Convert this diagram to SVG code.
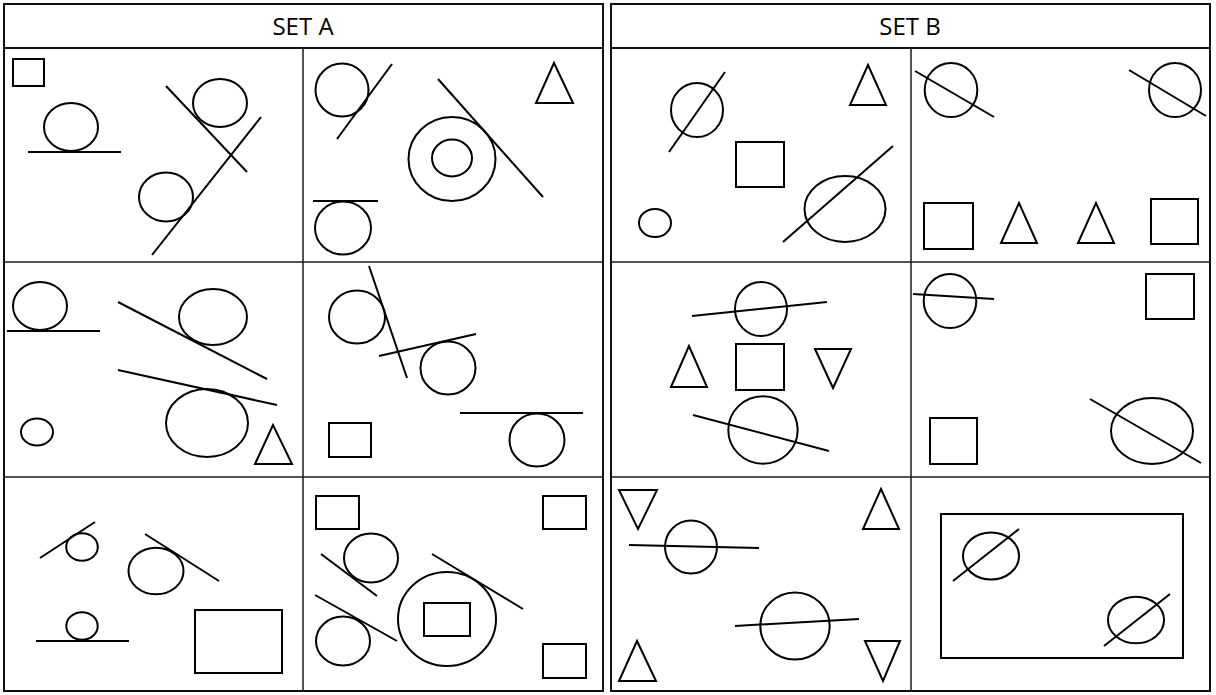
<svg xmlns="http://www.w3.org/2000/svg" width="1216" height="695" viewBox="0 0 1216 695">
<style>
.s{fill:none;stroke:#000;stroke-width:2}
.g{fill:none;stroke:#1a1a1a;stroke-width:1.5}
.o{fill:none;stroke:#111;stroke-width:2}
.t{font-family:"Open Sans","Liberation Sans",sans-serif;font-size:24px;text-anchor:middle;fill:#000}
</style>
<rect width="1216" height="695" fill="#fff"/>
<g id="frame">
<rect class="o" x="4" y="4" width="599" height="687"/>
<rect class="o" x="611" y="4" width="599" height="687"/>
<line class="o" x1="4" y1="48" x2="603" y2="48"/>
<line class="o" x1="611" y1="48" x2="1210" y2="48"/>
<line class="g" x1="303" y1="48" x2="303" y2="691"/>
<line class="g" x1="911" y1="48" x2="911" y2="691"/>
<line class="g" x1="4" y1="262" x2="603" y2="262"/>
<line class="g" x1="4" y1="477" x2="603" y2="477"/>
<line class="g" x1="611" y1="262" x2="1210" y2="262"/>
<line class="g" x1="611" y1="477" x2="1210" y2="477"/>
<text class="t" x="303" y="35">SET A</text>
<text class="t" x="910" y="35">SET B</text>
</g>
<g id="a1" class="s">
<rect x="13" y="59" width="31" height="27"/>
<ellipse cx="71" cy="127" rx="27" ry="24"/>
<line x1="28" y1="152" x2="121" y2="152"/>
<ellipse cx="220" cy="103" rx="27" ry="24"/>
<line x1="166" y1="86" x2="247" y2="172"/>
<ellipse cx="166" cy="197" rx="27" ry="24.5"/>
<line x1="152" y1="255" x2="261" y2="117"/>
</g>
<g id="a2" class="s">
<circle cx="342" cy="90" r="26.5"/>
<line x1="337" y1="139" x2="392" y2="64"/>
<polygon points="554,63 536,103 573,103"/>
<ellipse cx="452" cy="159" rx="43.5" ry="42"/>
<ellipse cx="452" cy="158" rx="20" ry="18.5"/>
<line x1="438" y1="79" x2="543" y2="197"/>
<line x1="313" y1="201" x2="378" y2="201"/>
<ellipse cx="343" cy="228" rx="28" ry="26.5"/>
</g>
<g id="a3" class="s">
<ellipse cx="40" cy="306" rx="27" ry="24"/>
<line x1="7" y1="331" x2="100" y2="331"/>
<ellipse cx="213" cy="317" rx="34" ry="28"/>
<line x1="118" y1="302" x2="267" y2="379"/>
<line x1="118" y1="370" x2="277" y2="405"/>
<ellipse cx="207" cy="423" rx="41" ry="34"/>
<ellipse cx="37" cy="432" rx="16" ry="13.5"/>
<polygon points="273,425 255,464 292,464"/>
</g>
<g id="a4" class="s">
<ellipse cx="357" cy="317" rx="28" ry="26.5"/>
<line x1="369" y1="266" x2="407" y2="378"/>
<line x1="379" y1="356" x2="476" y2="334"/>
<ellipse cx="448" cy="368" rx="27.5" ry="26.5"/>
<rect x="329" y="423" width="42" height="34"/>
<line x1="460" y1="413" x2="583" y2="413"/>
<ellipse cx="537" cy="440" rx="27.5" ry="26.5"/>
</g>
<g id="a5" class="s">
<ellipse cx="82" cy="547" rx="15.8" ry="13.7"/>
<line x1="40" y1="558" x2="95" y2="522"/>
<ellipse cx="156" cy="571" rx="27.5" ry="23.3"/>
<line x1="145" y1="534" x2="219" y2="581"/>
<ellipse cx="82" cy="626" rx="15.7" ry="13.8"/>
<line x1="36" y1="641" x2="129" y2="641"/>
<rect x="195" y="610" width="87" height="63"/>
</g>
<g id="a6" class="s">
<rect x="316" y="496" width="43" height="33"/>
<rect x="543" y="496" width="43" height="33"/>
<ellipse cx="371" cy="558" rx="27" ry="24.5"/>
<line x1="321" y1="554" x2="377" y2="596"/>
<line x1="315" y1="595" x2="397" y2="641"/>
<ellipse cx="343" cy="641" rx="27" ry="24.5"/>
<ellipse cx="447" cy="619" rx="49" ry="47"/>
<rect x="424" y="603" width="46" height="33"/>
<line x1="432" y1="554" x2="523" y2="609"/>
<rect x="543" y="644" width="43" height="34"/>
</g>
<g id="b1" class="s">
<ellipse cx="697" cy="110" rx="26" ry="27"/>
<line x1="669" y1="152" x2="725" y2="72"/>
<polygon points="868,65 850,105 886,105"/>
<rect x="736" y="142" width="48" height="45"/>
<ellipse cx="655" cy="223" rx="16" ry="14"/>
<ellipse cx="845" cy="209" rx="40.5" ry="33"/>
<line x1="783" y1="242" x2="893" y2="146"/>
</g>
<g id="b2" class="s">
<ellipse cx="951" cy="90" rx="26.3" ry="27"/>
<line x1="915" y1="71" x2="994" y2="117"/>
<ellipse cx="1175" cy="90" rx="26" ry="27"/>
<line x1="1129" y1="70" x2="1206" y2="116"/>
<rect x="924" y="203" width="49" height="46"/>
<polygon points="1019,203 1001,243 1037,243"/>
<polygon points="1096,203 1078,243 1114,243"/>
<rect x="1151" y="199" width="47" height="45"/>
</g>
<g id="b3" class="s">
<ellipse cx="761" cy="309" rx="26" ry="27"/>
<line x1="692" y1="316" x2="827" y2="302"/>
<polygon points="689,346 671,387 707,387"/>
<rect x="736" y="344" width="48" height="46"/>
<polygon points="815,349 851,349 833,388"/>
<ellipse cx="763" cy="430" rx="34.7" ry="33.8"/>
<line x1="693" y1="415" x2="829" y2="451"/>
</g>
<g id="b4" class="s">
<ellipse cx="950" cy="301" rx="26.3" ry="27"/>
<line x1="913" y1="294" x2="994" y2="299"/>
<rect x="1146" y="274" width="48" height="45"/>
<rect x="930" y="418" width="47" height="46"/>
<ellipse cx="1152" cy="431" rx="41" ry="33"/>
<line x1="1090" y1="399" x2="1201" y2="463"/>
</g>
<g id="b5" class="s">
<polygon points="619,490 657,490 638,529"/>
<polygon points="881,489 863,529 899,529"/>
<ellipse cx="691" cy="547" rx="26" ry="26.5"/>
<line x1="629" y1="545" x2="759" y2="548"/>
<ellipse cx="795" cy="626" rx="34.7" ry="33.5"/>
<line x1="735" y1="626" x2="859" y2="619"/>
<polygon points="637,641 619,681 656,681"/>
<polygon points="865,641 900,641 883,681"/>
</g>
<g id="b6" class="s">
<rect x="941" y="514" width="242" height="144"/>
<ellipse cx="991" cy="556" rx="28" ry="23.5"/>
<line x1="953" y1="581" x2="1019" y2="529"/>
<ellipse cx="1136" cy="620" rx="28" ry="23.3"/>
<line x1="1104" y1="646" x2="1170" y2="594"/>
</g>
</svg>
